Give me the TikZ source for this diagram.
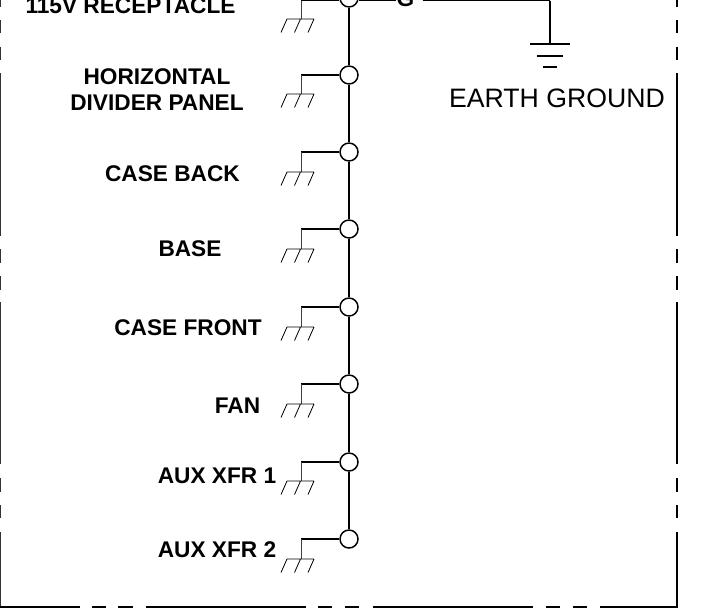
\documentclass[tikz,border=0pt]{standalone}
\usepackage{fontspec}
\setmainfont{Liberation Sans}
\tikzset{
  lbl/.style={font=\fontsize{17}{19.5}\selectfont\bfseries,align=center,inner sep=0pt},
  term/.style={circle,draw,fill=white,line width=1.1pt,minimum size=13.5pt,inner sep=0pt},
  wire/.style={line width=1.2pt},
  thinwire/.style={line width=0.7pt,black!75},
  hatch/.style={line width=0.6pt},
  frame/.style={line width=1.1pt,line cap=butt}
}
\begin{document}
\begin{tikzpicture}[x=0.75pt,y=-0.75pt]
\useasboundingbox (0,0) rectangle (713,614);
\fill[white] (0,0) rectangle (713,614);
% frame
\foreach \a/\b in {-2/7,20/33,47/60,73/236,249/263,276/290,302/464,478/492,505/518,532/607}{
  \draw[frame] (677,\a) -- (677,\b);
  \draw[frame,black!80] (0,\a) -- (0,\b);
}
\foreach \a/\b in {-1/80,92/106,118/133,146/306,318/332,345/359,373/533,546/560,573/587,600/678}{
  \draw[frame,line width=1.6pt] (\a,607) -- (\b,607);
}
% terminals
\node[term] (n0) at (349,-2) {};
\node[term] (n1) at (349,75) {};
\node[term] (n2) at (349,152) {};
\node[term] (n3) at (349,229) {};
\node[term] (n4) at (349,307) {};
\node[term] (n5) at (349,384) {};
\node[term] (n6) at (349,462) {};
\node[term] (n7) at (349,539) {};
\draw[wire] (n0)--(n1) (n1)--(n2) (n2)--(n3) (n3)--(n4) (n4)--(n5) (n5)--(n6) (n6)--(n7);
\foreach \n/\y/\gy in {0/0.5/19,1/75/94,2/152/172,3/229/249,4/307/327,5/384/404,6/462/481,7/539/559}{
  \coordinate (s\n) at (301,\y);
  \coordinate (g\n) at (301,\gy);
  \draw[wire] (n\n.west |- s\n) -- (s\n);
  \draw[thinwire] (s\n) -- (g\n);
  \draw[hatch] (287,\gy) -- (314,\gy)
     (287,\gy) -- +(-6,13.5) (300.5,\gy) -- +(-6,13.5) (314,\gy) -- +(-6,13.5);
}
% labels
\node[lbl] (t0) at (130.5,6) {115V RECEPTACLE};
\node[lbl] (t1) at (157,90) {HORIZONTAL\\DIVIDER PANEL};
\node[lbl] (t2) at (172.5,174) {CASE BACK};
\node[lbl] (t3) at (190,249) {BASE};
\node[lbl] (t4) at (188,328) {CASE FRONT};
\node[lbl] (t5) at (237.5,406) {FAN};
\node[lbl] (t6) at (217,476) {AUX XFR 1};
\node[lbl] (t7) at (217,550) {AUX XFR 2};
% G and earth
\node[lbl] (G) at (405.5,-1) {G};
\coordinate (e0) at (550,0.5);
\coordinate (e1) at (550,44);
\draw[wire] (n0.east |- e0) -- (G.west |- e0) ++(-5,0);
\draw[wire] (G.east |- e0) ++(8,0) -- (e0);
\draw[line width=1.5pt] (e0) -- (e1);
\draw[line width=1.5pt] (530,44) -- (570,44) (537,56) -- (563,56) (543,67) -- (557,67);
\node[inner sep=0pt,font=\fontsize{20}{24}\selectfont] (E) at (557,98) {EARTH GROUND};
\end{tikzpicture}
\end{document}
